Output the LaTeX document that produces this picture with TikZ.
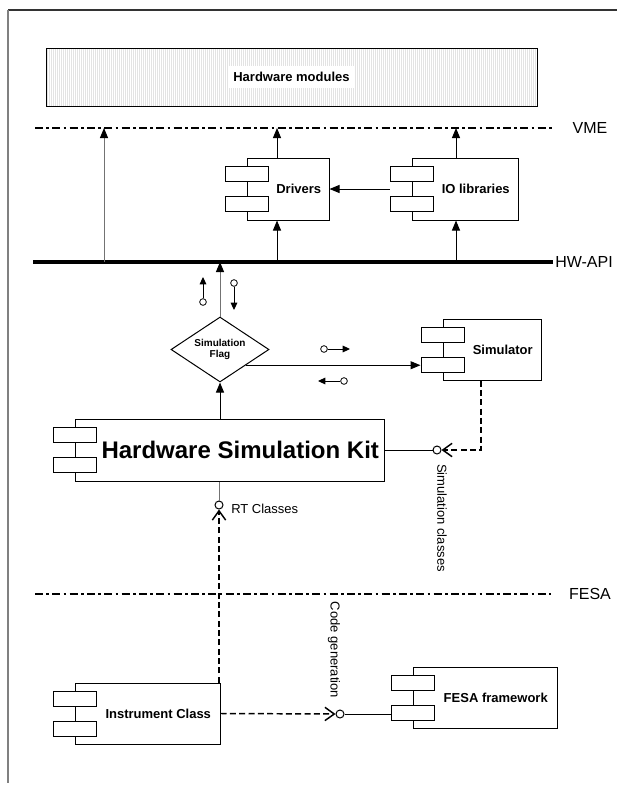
\documentclass[tikz,border=0pt]{standalone}
\usepackage{fontspec}
\setmainfont{Liberation Sans}
\usetikzlibrary{arrows.meta,shapes.geometric,calc,fit}

% UML component: name, x1, y1, x2, y2, label
\newcommand{\umlcomp}[6]{%
  \node[compbox, fit={(#2,#3) (#4,#5)}] (#1) {};
  \node[port] (#1-a) at ($(#1.west)+(0,-15)$) {};
  \node[port] (#1-b) at ($(#1.west)+(0,15)$) {};
  \node[complabel] (#1-l) at ($(#2+21.5,#3)!0.5!(#4,#5)$) {#6};
}

\begin{document}
\begin{tikzpicture}[x=0.75pt,y=-0.75pt,
  every node/.style={inner sep=0pt},
  line/.style={line width=0.75pt},
  grayline/.style={line width=0.75pt, draw=black!55},
  bus/.style={line width=3pt},
  layer/.style={line width=1.5pt, dash pattern=on 6pt off 2.5pt on 2pt off 2.5pt},
  dep/.style={line width=1.1pt, dash pattern=on 4.5pt off 2.5pt},
  tri/.style={-{Triangle[length=7.5pt,width=6pt,color=black]}},
  smalltri/.style={line width=0.75pt,-{Triangle[length=5.5pt,width=5pt]}},
  barb/.style={-{Straight Barb[length=7pt,width=10pt]}},
  compbox/.style={draw, line width=0.75pt, inner sep=0pt},
  port/.style={draw, fill=white, line width=0.75pt, minimum width=32.25pt, minimum height=11.25pt, inner sep=0pt},
  complabel/.style={font=\bfseries\fontsize{9.75}{11}\selectfont},
  iface/.style={circle, draw, fill=white, line width=0.75pt, minimum size=6pt, inner sep=0pt},
  mini/.style={circle, draw, fill=white, line width=0.6pt, minimum size=5pt, inner sep=0pt},
  layertxt/.style={font=\fontsize{12}{14}\selectfont},
  note/.style={font=\fontsize{9.75}{11}\selectfont},
  rot/.style={note, rotate=-90}
]
\useasboundingbox (0,0) rectangle (617,785);

% frame
\draw[line width=1.2pt, black!80] (8,10) -- (617,10);
\draw[line width=1.5pt, black!50] (8,10) -- (8,783);

% hardware modules block with vertical hatching
\foreach \i in {0,...,244} {
  \draw[gray!22, line width=0.3pt] (47+2*\i,48) -- (47+2*\i,106);
}
\node[compbox, fit={(46,48) (537,106)}] (hw) {};
\node[complabel, fill=white, inner xsep=4pt, inner ysep=5pt] (hwl) at (hw.center) {Hardware modules};

% layers and bus
\coordinate (vmeL) at (35,128);
\coordinate (vmeR) at (552,128);
\draw[layer] (vmeL) -- (vmeR);
\node[layertxt] (vme) at (590,128) {VME};

\coordinate (hwL) at (33,262);
\coordinate (hwR) at (553,262);
\draw[bus] (hwL) -- (hwR);
\node[layertxt, anchor=west, inner sep=1.5pt] (hwapi) at (hwR) {HW-API};

\coordinate (feL) at (35,594);
\coordinate (feR) at (551,594);
\draw[layer] (feL) -- (feR);
\node[layertxt] (fesa) at (590,594) {FESA};

% components
\umlcomp{drv}{247}{158}{329}{220}{Drivers}
\umlcomp{io}{412}{158}{518}{220}{IO libraries}
\umlcomp{sim}{443}{319}{541}{380}{Simulator}
\umlcomp{hsk}{75}{419}{384}{481}{\fontsize{18}{20}\selectfont Hardware Simulation Kit}
\umlcomp{inst}{75}{683}{220}{744}{Instrument Class}
\umlcomp{fw}{413}{667}{557}{728}{FESA framework}

% simulation flag
\node[diamond, draw, line width=0.75pt, aspect=1.5, minimum width=73.5pt, minimum height=48.75pt,
      align=center, font=\bfseries\fontsize{7.5}{8.5}\selectfont] (flag) at (220,349.5) {Simulation\\Flag};

% connections to the VME layer
\coordinate (b0) at (104,262);
\draw[grayline, tri] (b0) -- (b0 |- vmeL);
\coordinate (b1) at (277,262);
\draw[line, tri] (b1) -- (b1 |- drv.south);
\draw[line, tri] (b1 |- drv.north) -- (b1 |- vmeL);
\coordinate (b2) at (456,262);
\draw[line, tri] (b2) -- (b2 |- io.south);
\draw[line, tri] (b2 |- io.north) -- (b2 |- vmeL);
\draw[line, tri] (io-a.west |- io.west) -- (drv.east);

% simulation flag wiring
\draw[grayline, tri] (flag.north) -- (flag.north |- hwL);
\draw[line, tri] (hsk.north -| flag.south) -- (flag.south);
\coordinate (fs) at ($(flag.east)!0.477!(flag.south)$);
\draw[line, tri] (fs) -- (fs -| sim-b.west);

% direction marks
\node[mini] (m1) at (203,302) {};
\coordinate (m1t) at (203,277);
\draw[smalltri] (m1) -- (m1t);
\node[mini] (m2) at (234,283) {};
\coordinate (m2t) at (234,310);
\draw[smalltri] (m2) -- (m2t);
\node[mini] (m3) at (324,349) {};
\coordinate (m3t) at (350,349);
\draw[smalltri] (m3) -- (m3t);
\node[mini] (m4) at (344,381) {};
\coordinate (m4t) at (318,381);
\draw[smalltri] (m4) -- (m4t);

% simulation classes interface
\node[iface] (sc) at (437,450) {};
\draw[line] (hsk.east) -- (sc.west);
\draw[dep, barb] ($(sim.south)+(-11,0)$) |- (sc.east);
\node[rot] (scl) at (442,518) {Simulation classes};

% RT classes interface
\node[iface] (rt) at (219,505) {};
\draw[grayline] (hsk.south -| rt) -- (rt.north);
\draw[dep, barb] (rt |- inst.north) -- (rt.south);
\node[note, anchor=west] (rtl) at (231,509) {RT Classes};

% code generation interface
\node[iface] (cg) at (340,714) {};
\draw[dep, barb] (inst.east) -- (cg.west);
\draw[line] (cg.east) -- (cg.east -| fw-b.west);
\node[rot] (cgl) at (334,650) {Code generation};
\end{tikzpicture}
\end{document}
